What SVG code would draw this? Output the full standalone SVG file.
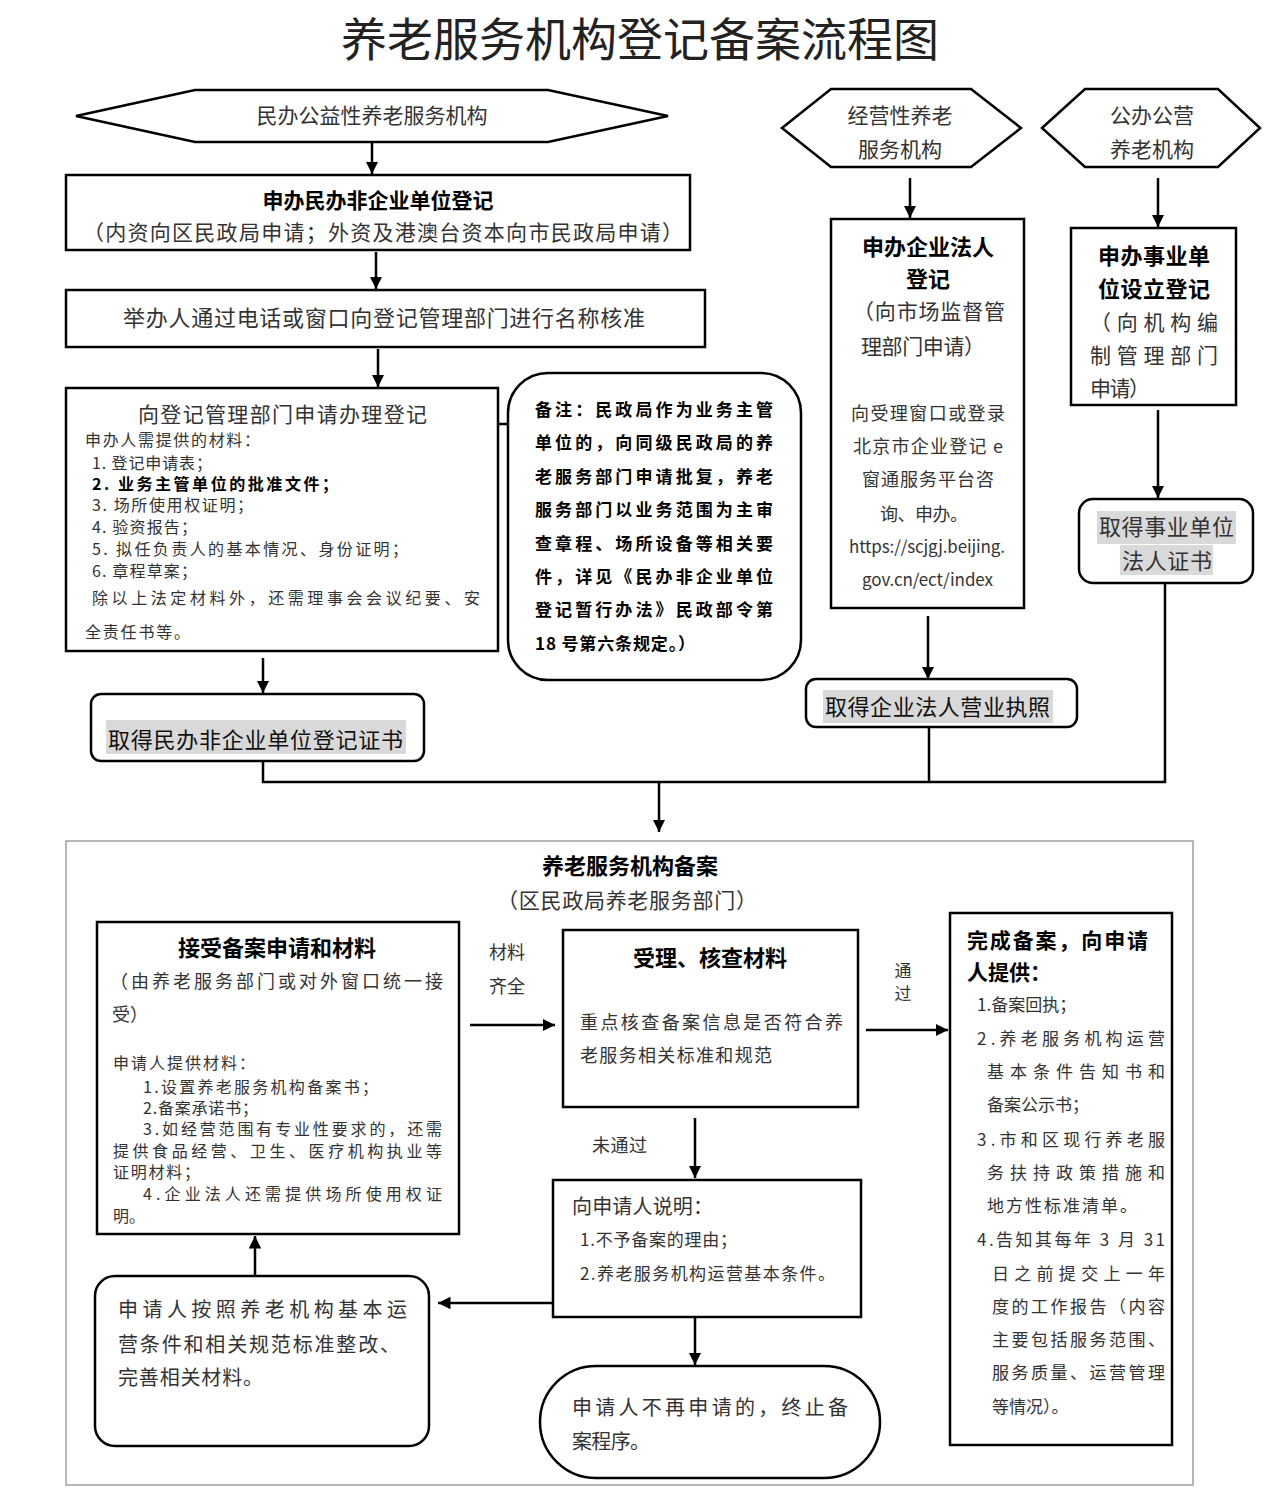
<svg xmlns="http://www.w3.org/2000/svg" width="1280" height="1506" viewBox="0 0 1280 1506">
<defs>
<marker id="ah" viewBox="0 0 10 10" refX="10" refY="5" markerWidth="5" markerHeight="5" orient="auto" markerUnits="strokeWidth"><path d="M0,0 L10,5 L0,10 z" fill="#000"/></marker>
<style>
.box{fill:#fff;stroke:#000;stroke-width:2.5}
.thin{fill:none;stroke:#888;stroke-width:1.2}
.ln{fill:none;stroke:#000;stroke-width:2.5}
.arr{fill:none;stroke:#000;stroke-width:2.5;marker-end:url(#ah)}
text{font-family:"Noto Sans CJK SC","Noto Sans",sans-serif;fill:#333}
.b{font-weight:bold;fill:#000}
.m{text-anchor:middle}
.hl{fill:#d9d9d9}
.f15{font-size:15px}.f16{font-size:16px}.f17{font-size:17px}.f18{font-size:18px}.f20{font-size:20px}.f21{font-size:21px}.f22{font-size:22px}
</style>
</defs>
<rect width="1280" height="1506" fill="#fff"/>
<text x="640" y="56" class="m" style="font-size:46px;fill:#222">养老服务机构登记备案流程图</text>

<g id="connectors">
<line class="arr" x1="372" y1="143" x2="372" y2="174"/>
<line class="arr" x1="376" y1="252" x2="376" y2="289"/>
<line class="arr" x1="378" y1="349" x2="378" y2="387"/>
<line class="arr" x1="263" y1="658" x2="263" y2="693"/>
<line class="arr" x1="910" y1="178" x2="910" y2="218"/>
<line class="arr" x1="1158" y1="178" x2="1158" y2="227"/>
<line class="arr" x1="1158" y1="410" x2="1158" y2="498"/>
<line class="arr" x1="928" y1="616" x2="928" y2="679"/>
<polyline class="ln" points="263,762 263,782 1165,782 1165,584"/>
<line class="ln" x1="929" y1="727" x2="929" y2="782"/>
<line class="arr" x1="659" y1="782" x2="659" y2="832"/>
<polyline class="ln" points="262,497 471,497 471,424 573,424"/>
<line class="arr" x1="470" y1="1025" x2="555" y2="1025"/>
<line class="arr" x1="866" y1="1030" x2="948" y2="1030"/>
<line class="arr" x1="695" y1="1118" x2="695" y2="1178"/>
<line class="arr" x1="695" y1="1318" x2="695" y2="1365"/>
<line class="arr" x1="553" y1="1303" x2="438" y2="1303"/>
<line class="arr" x1="255" y1="1276" x2="255" y2="1236"/>
<text x="507" y="959" class="m f18">材料</text>
<text x="507" y="993" class="m f18">齐全</text>
<text x="903" y="977" class="m f17">通</text>
<text x="903" y="1000" class="m f17">过</text>
<text x="592" y="1152" class="f18" textLength="55">未通过</text>
</g>

<g id="n-hex1">
<polygon class="box" points="76,116 195,90 548,90 668,116 548,142 195,142"/>
<text x="372" y="123" class="m f21">民办公益性养老服务机构</text>
</g>
<g id="n-minfei">
<rect class="box" x="66" y="175" width="624" height="75"/>
<text x="378" y="208" class="m f21 b">申办民办非企业单位登记</text>
<text x="83" y="240" class="f21" textLength="600">（内资向区民政局申请；外资及港澳台资本向市民政局申请）</text>
</g>
<g id="n-name">
<rect class="box" x="66" y="290" width="639" height="57"/>
<text x="123" y="326" class="f22" textLength="522">举办人通过电话或窗口向登记管理部门进行名称核准</text>
</g>
<g id="n-apply">
<rect class="box" x="66" y="388" width="432" height="263"/>
<text x="138" y="422" class="f21" textLength="289">向登记管理部门申请办理登记</text>
<text x="85" y="446" class="f16" textLength="175">申办人需提供的材料：</text>
<text x="92" y="469" class="f16" textLength="120">1. 登记申请表；</text>
<text x="92" y="490" class="f16 b" textLength="246">2. 业务主管单位的批准文件；</text>
<text x="92" y="511" class="f16" textLength="161">3. 场所使用权证明；</text>
<text x="92" y="533" class="f16" textLength="105">4. 验资报告；</text>
<text x="92" y="555" class="f16" textLength="316">5. 拟任负责人的基本情况、身份证明；</text>
<text x="92" y="577" class="f16" textLength="105">6. 章程草案；</text>
<text x="92" y="604" class="f16" textLength="388">除以上法定材料外，还需理事会会议纪要、安</text>
<text x="85" y="638" class="f16" textLength="105">全责任书等。</text>
</g>
<g id="n-note">
<rect class="box" x="508" y="373" width="293" height="307" rx="40"/>
<text x="535" y="416" class="f17 b" textLength="238">备注：民政局作为业务主管</text>
<text x="535" y="449" class="f17 b" textLength="238">单位的，向同级民政局的养</text>
<text x="535" y="483" class="f17 b" textLength="238">老服务部门申请批复，养老</text>
<text x="535" y="516" class="f17 b" textLength="238">服务部门以业务范围为主审</text>
<text x="535" y="550" class="f17 b" textLength="238">查章程、场所设备等相关要</text>
<text x="535" y="583" class="f17 b" textLength="238">件，详见《民办非企业单位</text>
<text x="535" y="616" class="f17 b" textLength="238">登记暂行办法》民政部令第</text>
<text x="535" y="650" class="f17 b" textLength="160">18 号第六条规定。）</text>
</g>
<g id="n-cert1">
<rect class="box" x="91" y="694" width="333" height="67" rx="10"/>
<rect class="hl" x="106" y="720" width="300" height="34"/>
<text x="108" y="748" class="f22" textLength="295" style="fill:#111">取得民办非企业单位登记证书</text>
</g>
<g id="n-hex2">
<polygon class="box" points="782,128 831,89 971,89 1021,128 971,167 831,167"/>
<text x="900" y="123" class="m f21">经营性养老</text>
<text x="900" y="157" class="m f21">服务机构</text>
</g>
<g id="n-hex3">
<polygon class="box" points="1042,128 1085,89 1218,89 1260,128 1218,167 1085,167"/>
<text x="1152" y="123" class="m f21">公办公营</text>
<text x="1152" y="157" class="m f21">养老机构</text>
</g>
<g id="n-corp">
<rect class="box" x="831" y="219" width="193" height="389"/>
<text x="928" y="255" class="m f22 b">申办企业法人</text>
<text x="928" y="287" class="m f22 b">登记</text>
<text x="853" y="319" class="f21" textLength="152">（向市场监督管</text>
<text x="861" y="354" class="f21" textLength="124">理部门申请）</text>
<text x="851" y="420" class="f18" textLength="154">向受理窗口或登录</text>
<text x="853" y="453" class="f18" textLength="150">北京市企业登记 e</text>
<text x="862" y="486" class="f18" textLength="132">窗通服务平台咨</text>
<text x="880" y="521" class="f18" textLength="88">询、申办。</text>
<text x="849" y="553" class="f17" textLength="156">https://scjgj.beijing.</text>
<text x="862" y="586" class="f17" textLength="131">gov.cn/ect/index</text>
</g>
<g id="n-inst">
<rect class="box" x="1071" y="228" width="165" height="177"/>
<text x="1098" y="264" class="f22 b" textLength="112">申办事业单</text>
<text x="1098" y="297" class="f22 b" textLength="112">位设立登记</text>
<text x="1090" y="330" class="f21" textLength="128">（向机构编</text>
<text x="1090" y="363" class="f21" textLength="128">制管理部门</text>
<text x="1090" y="396" class="f21" textLength="60">申请）</text>
</g>
<g id="n-cert3">
<rect class="box" x="1079" y="499" width="174" height="84" rx="14"/>
<rect class="hl" x="1097" y="511" width="139" height="33"/>
<rect class="hl" x="1120" y="545" width="93" height="30"/>
<text x="1099" y="535" class="f22" textLength="135">取得事业单位</text>
<text x="1122" y="569" class="f22" textLength="90">法人证书</text>
</g>
<g id="n-cert2">
<rect class="box" x="806" y="679" width="271" height="48" rx="10"/>
<rect class="hl" x="823" y="690" width="230" height="33"/>
<text x="825" y="715" class="f22" textLength="225" style="fill:#111">取得企业法人营业执照</text>
</g>

<g id="n-record">
<rect class="thin" x="66" y="841" width="1127" height="644"/>
<text x="630" y="874" class="m f22 b">养老服务机构备案</text>
<text x="497" y="908" class="f21" textLength="260">（区民政局养老服务部门）</text>
</g>
<g id="n-accept">
<rect class="box" x="97" y="922" width="362" height="312"/>
<text x="277" y="956" class="m f22 b">接受备案申请和材料</text>
<text x="110" y="988" class="f18" textLength="333">（由养老服务部门或对外窗口统一接</text>
<text x="112" y="1021" class="f18">受）</text>
<text x="113" y="1069" class="f16" textLength="142">申请人提供材料：</text>
<text x="143" y="1093" class="f16" textLength="235">1.设置养老服务机构备案书；</text>
<text x="143" y="1114" class="f16" textLength="115">2.备案承诺书；</text>
<text x="143" y="1135" class="f16" textLength="299">3.如经营范围有专业性要求的，还需</text>
<text x="113" y="1157" class="f16" textLength="329">提供食品经营、卫生、医疗机构执业等</text>
<text x="113" y="1178" class="f16" textLength="87">证明材料；</text>
<text x="143" y="1200" class="f16" textLength="299">4.企业法人还需提供场所使用权证</text>
<text x="113" y="1222" class="f16">明。</text>
</g>
<g id="n-check">
<rect class="box" x="563" y="930" width="295" height="177"/>
<text x="710" y="966" class="m f22 b">受理、核查材料</text>
<text x="580" y="1029" class="f18" textLength="263">重点核查备案信息是否符合养</text>
<text x="580" y="1062" class="f18" textLength="192">老服务相关标准和规范</text>
</g>
<g id="n-done">
<rect class="box" x="950" y="913" width="222" height="532"/>
<text x="967" y="948" class="f21 b" textLength="181">完成备案，向申请</text>
<text x="967" y="980" class="f21 b">人提供：</text>
<text x="977" y="1011" class="f17">1.备案回执；</text>
<text x="977" y="1045" class="f17" textLength="188">2.养老服务机构运营</text>
<text x="987" y="1078" class="f17" textLength="178">基本条件告知书和</text>
<text x="987" y="1111" class="f17">备案公示书；</text>
<text x="977" y="1146" class="f17" textLength="188">3.市和区现行养老服</text>
<text x="987" y="1179" class="f17" textLength="178">务扶持政策措施和</text>
<text x="987" y="1212" class="f17" textLength="150">地方性标准清单。</text>
<text x="977" y="1246" class="f17" textLength="188">4.告知其每年 3 月 31</text>
<text x="992" y="1280" class="f17" textLength="173">日之前提交上一年</text>
<text x="992" y="1313" class="f17" textLength="173">度的工作报告（内容</text>
<text x="992" y="1346" class="f17" textLength="173">主要包括服务范围、</text>
<text x="992" y="1379" class="f17" textLength="173">服务质量、运营管理</text>
<text x="992" y="1413" class="f17">等情况）。</text>
</g>
<g id="n-explain">
<rect class="box" x="553" y="1180" width="308" height="137"/>
<text x="572" y="1214" class="f20" textLength="141">向申请人说明：</text>
<text x="580" y="1246" class="f17" textLength="157">1.不予备案的理由；</text>
<text x="580" y="1280" class="f17" textLength="255">2.养老服务机构运营基本条件。</text>
</g>
<g id="n-end">
<rect class="box" x="540" y="1366" width="340" height="112" rx="56"/>
<text x="572" y="1415" class="f20" textLength="276">申请人不再申请的，终止备</text>
<text x="572" y="1449" class="f20" textLength="78">案程序。</text>
</g>
<g id="n-revise">
<rect class="box" x="95" y="1276" width="334" height="170" rx="20"/>
<text x="118" y="1317" class="f20" textLength="289">申请人按照养老机构基本运</text>
<text x="118" y="1352" class="f20" textLength="282">营条件和相关规范标准整改、</text>
<text x="118" y="1385" class="f20" textLength="145">完善相关材料。</text>
</g>
</svg>
